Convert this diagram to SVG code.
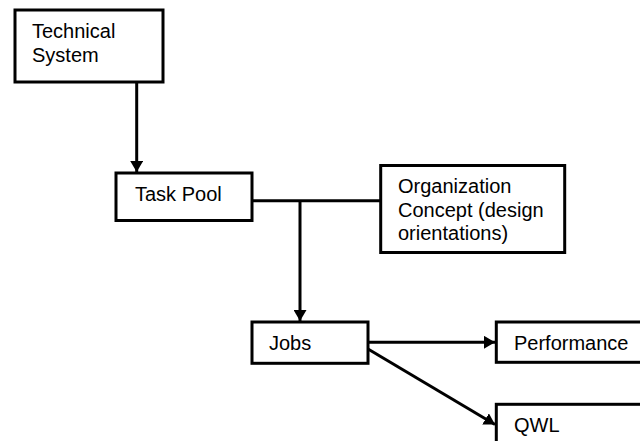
<svg xmlns="http://www.w3.org/2000/svg" width="640" height="441" viewBox="0 0 640 441">
<style>
.box{fill:#fff;stroke:#000;stroke-width:3}
.lbl{font-family:"Liberation Sans",Arial,sans-serif;font-size:20px;fill:#000}
.con{fill:none;stroke:#000;stroke-width:3}
</style>
<defs>
<marker id="ah" markerUnits="userSpaceOnUse" markerWidth="11" markerHeight="13" refX="11" refY="6.5" orient="auto">
<path d="M0,0 L11,6.5 L0,13 z" fill="#000"/>
</marker>
</defs>
<rect width="640" height="441" fill="#fff"/>
<g id="connectors">
<line class="con" x1="136.7" y1="82" x2="136.7" y2="172" marker-end="url(#ah)"/>
<line class="con" x1="252" y1="200.7" x2="381" y2="200.7"/>
<line class="con" x1="300" y1="200.7" x2="300" y2="321" marker-end="url(#ah)"/>
<line class="con" x1="368" y1="342.3" x2="495" y2="342.3" marker-end="url(#ah)"/>
<line class="con" x1="368" y1="349" x2="495" y2="424.5" marker-end="url(#ah)"/>
</g>
<g id="technical-system">
<rect class="box" x="15" y="10" width="148" height="72"/>
<text class="lbl" x="32" y="37.5">Technical</text>
<text class="lbl" x="32" y="61.5">System</text>
</g>
<g id="task-pool">
<rect class="box" x="116" y="173" width="136" height="47.5"/>
<text class="lbl" x="135" y="200.5">Task Pool</text>
</g>
<g id="organization-concept">
<rect class="box" x="380.7" y="165.5" width="184" height="87"/>
<text class="lbl" x="398" y="193.3">Organization</text>
<text class="lbl" x="398" y="216.8">Concept (design</text>
<text class="lbl" x="398" y="240.3">orientations)</text>
</g>
<g id="jobs">
<rect class="box" x="252" y="322" width="116" height="41.3"/>
<text class="lbl" x="269" y="350">Jobs</text>
</g>
<g id="performance">
<rect class="box" x="496.3" y="322" width="160" height="40.3"/>
<text class="lbl" x="514" y="350">Performance</text>
</g>
<g id="qwl">
<rect class="box" x="496.3" y="404.3" width="160" height="60"/>
<text class="lbl" x="514" y="432">QWL</text>
</g>
</svg>
